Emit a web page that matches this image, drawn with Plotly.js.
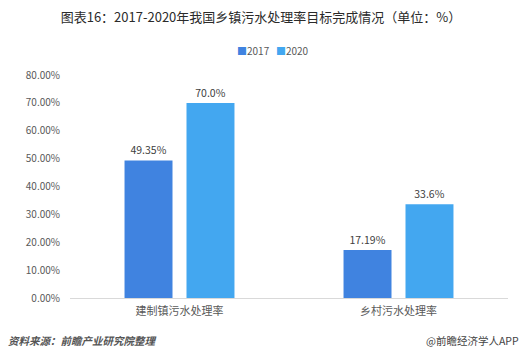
<!DOCTYPE html>
<html><head><meta charset="utf-8">
<script src="https://cdn.plot.ly/plotly-3.0.1.min.js"></script>
<style>html,body{margin:0;padding:0;background:#fff}#chart{width:522px;height:356px}</style>
</head><body><div id="chart"></div>
<script>
const categories = ['建制镇污水处理率', '乡村污水处理率'];
const seriesNames = ['2017', '2020'];
const series2017 = [49.35, 17.19];
const series2020 = [70.0, 33.6];
const labels2017 = ['49.35%', '17.19%'];
const labels2020 = ['70.0%', '33.6%'];
const tickVals = [0, 10, 20, 30, 40, 50, 60, 70, 80];
const tickText = ['0.00%', '10.00%', '20.00%', '30.00%', '40.00%', '50.00%', '60.00%', '70.00%', '80.00%'];
const colors = ['#4083e0', '#43a7f0'];

const font = "'Microsoft YaHei', 'Noto Sans CJK SC', sans-serif";
const data = [
  {type: 'bar', name: seriesNames[0], x: categories, y: series2017, text: labels2017,
   textposition: 'outside', cliponaxis: false, marker: {color: colors[0]},
   textfont: {size: 10.5, color: '#404040', family: font}, hoverinfo: 'none'},
  {type: 'bar', name: seriesNames[1], x: categories, y: series2020, text: labels2020,
   textposition: 'outside', cliponaxis: false, marker: {color: colors[1]},
   textfont: {size: 10.5, color: '#404040', family: font}, hoverinfo: 'none'}
];
const legendText = seriesNames.map((n, i) =>
  '<span style="color:' + colors[i] + '">■</span>' + n).join('   ');
const layout = {
  width: 522, height: 356,
  margin: {l: 70, r: 14, t: 75, b: 58},
  paper_bgcolor: '#fff', plot_bgcolor: '#fff',
  font: {family: font, color: '#595959', size: 10},
  title: {text: '图表16：2017-2020年我国乡镇污水处理率目标完成情况（单位：%）',
          font: {size: 13, color: '#2b2b2b', family: font}, x: 0.5, xanchor: 'center', y: 0.952, yanchor: 'middle'},
  showlegend: false,
  barmode: 'group', bargap: 0.434, bargroupgap: 0.226,
  xaxis: {showline: true, linecolor: '#d9d9d9', linewidth: 1, ticks: '', showgrid: false,
          tickfont: {size: 11, color: '#595959'}, zeroline: false, fixedrange: true, ticklabelstandoff: 3},
  yaxis: {range: [0, 80], tickvals: tickVals, ticktext: tickText, showgrid: false,
          zeroline: false, showline: false, ticks: '', tickfont: {size: 10, color: '#595959'},
          ticklabelstandoff: 9, fixedrange: true},
  annotations: [
    {text: legendText, xref: 'paper', yref: 'paper', x: 0.463, xanchor: 'center',
     y: 1.112, yanchor: 'middle', showarrow: false, font: {size: 10, color: '#595959', family: font}},
    {text: '<b><i>资料来源：前瞻产业研究院整理</i></b>', xref: 'paper', yref: 'paper', x: -0.145, xanchor: 'left',
     y: -0.19, yanchor: 'middle', showarrow: false, font: {size: 10.5, color: '#555', family: font}},
    {text: '@前瞻经济学人APP', xref: 'paper', yref: 'paper', x: 1.03, xanchor: 'right',
     y: -0.19, yanchor: 'middle', showarrow: false, font: {size: 10.5, color: '#444', family: font}}
  ]
};
Plotly.newPlot('chart', data, layout, {displayModeBar: false, staticPlot: true});
</script></body></html>
